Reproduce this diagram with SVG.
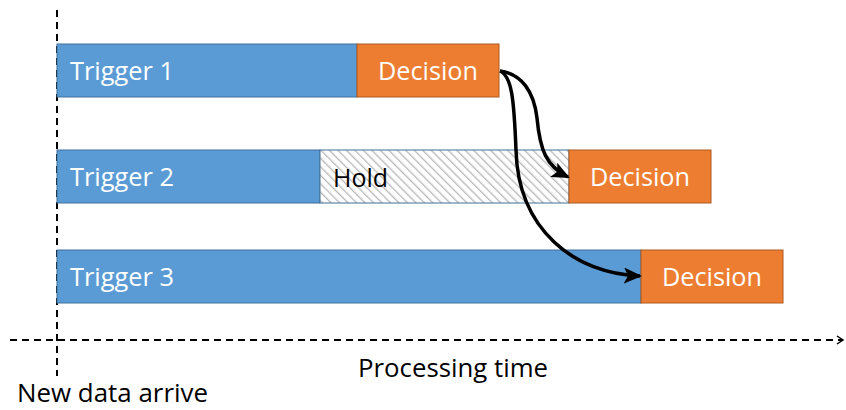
<svg xmlns="http://www.w3.org/2000/svg" width="846" height="410" viewBox="0 0 846 410">
  <style>
    .trig { fill: #5B9BD5; stroke: #41719C; stroke-width: 1; }
    .dec { fill: #ED7D31; stroke: #AE5A21; stroke-width: 1; }
    .hold { fill: url(#hatch); stroke: #41719C; stroke-width: 1; }
    .lbl { font-family: "Open Sans", "Noto Sans", sans-serif; font-size: 26px; }
    .white { fill: #FFFFFF; }
    .dark { fill: #000000; }
    .axis { stroke: #000000; stroke-width: 2; stroke-dasharray: 7 5; fill: none; }
    .flow { stroke: #000000; stroke-width: 3.5; fill: none; marker-end: url(#head); }
  </style>
  <defs>
    <pattern id="hatch" patternUnits="userSpaceOnUse" width="6" height="6" patternTransform="rotate(-45)">
      <rect width="6" height="6" fill="#FFFFFF"/>
      <line x1="0" y1="0" x2="0" y2="6" stroke="#B8B8B8" stroke-width="2.6"/>
    </pattern>
    <marker id="head" markerWidth="18" markerHeight="16" refX="16" refY="8" orient="auto" markerUnits="userSpaceOnUse">
      <path d="M0,0 L18,8 L0,16 L4,8 Z" fill="#000000"/>
    </marker>
    <marker id="open" markerWidth="10" markerHeight="10" refX="8" refY="5" orient="auto" markerUnits="userSpaceOnUse">
      <path d="M2,1 L8,5 L2,9" fill="none" stroke="#000000" stroke-width="1.5"/>
    </marker>
  </defs>

  <!-- time axes -->
  <g id="axes">
    <line class="axis" x1="57" y1="10" x2="57" y2="376"/>
    <line class="axis" x1="10" y1="340" x2="843" y2="340" marker-end="url(#open)"/>
  </g>

  <!-- trigger 1 -->
  <g id="trigger1">
    <rect class="trig" x="57" y="44" width="300" height="53"/>
    <text class="lbl white" x="70" y="80" textLength="104" lengthAdjust="spacingAndGlyphs">Trigger 1</text>
  </g>
  <g id="decision1">
    <rect class="dec" x="357" y="44" width="142" height="53"/>
    <text class="lbl white" x="428" y="80" text-anchor="middle" textLength="100" lengthAdjust="spacingAndGlyphs">Decision</text>
  </g>

  <!-- trigger 2 -->
  <g id="trigger2">
    <rect class="trig" x="57" y="150" width="263" height="53"/>
    <text class="lbl white" x="70" y="186" textLength="104" lengthAdjust="spacingAndGlyphs">Trigger 2</text>
  </g>
  <g id="hold">
    <rect class="hold" x="320" y="150" width="249" height="53"/>
    <text class="lbl dark" x="333" y="187" textLength="55" lengthAdjust="spacingAndGlyphs">Hold</text>
  </g>
  <g id="decision2">
    <rect class="dec" x="569" y="150" width="142" height="53"/>
    <text class="lbl white" x="640" y="186" text-anchor="middle" textLength="100" lengthAdjust="spacingAndGlyphs">Decision</text>
  </g>

  <!-- trigger 3 -->
  <g id="trigger3">
    <rect class="trig" x="57" y="250" width="584" height="53"/>
    <text class="lbl white" x="70" y="286" textLength="104" lengthAdjust="spacingAndGlyphs">Trigger 3</text>
  </g>
  <g id="decision3">
    <rect class="dec" x="641" y="250" width="142" height="53"/>
    <text class="lbl white" x="712" y="286" text-anchor="middle" textLength="100" lengthAdjust="spacingAndGlyphs">Decision</text>
  </g>

  <!-- connectors -->
  <g id="connectors">
    <path class="flow" d="M500,71 C522,74 534,92 537,118 C540,150 546,166 568,177"/>
    <path class="flow" d="M500,71 C512,76 514,100 516,150 C518,230 575,274 640,276"/>
  </g>

  <!-- axis labels -->
  <g id="labels">
    <text class="lbl dark" x="453" y="377" text-anchor="middle" textLength="190" lengthAdjust="spacingAndGlyphs">Processing time</text>
    <text class="lbl dark" x="17" y="402" textLength="191" lengthAdjust="spacingAndGlyphs">New data arrive</text>
  </g>
</svg>
